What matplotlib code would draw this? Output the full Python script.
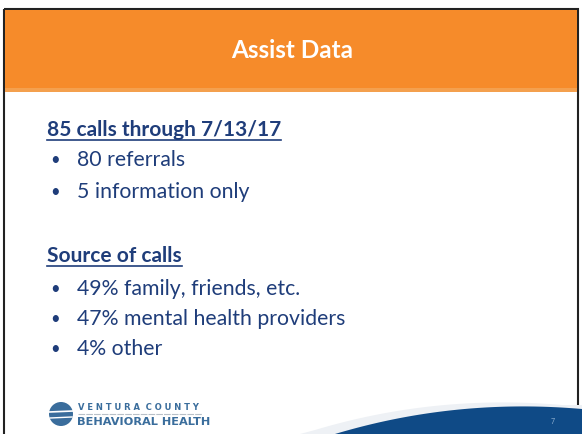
import numpy as np
import matplotlib.pyplot as plt
from matplotlib.patches import Rectangle, Polygon, Circle

title = "Assist Data"
heading1 = "85 calls through 7/13/17"
bullets1 = ["80 referrals", "5 information only"]
heading2 = "Source of calls"
bullets2 = ["49% family, friends, etc.", "47% mental health providers", "4% other"]
page_no = "7"

W, H = 582, 434
navy = "#1f3d7a"
orange = "#f68b2a"
plt.rcParams['font.family'] = ['Lato', 'DejaVu Sans']

fig = plt.figure(figsize=(W / 100, H / 100), dpi=100)
ax = fig.add_axes([0, 0, 1, 1])
ax.set_xlim(0, W)
ax.set_ylim(H, 0)
ax.axis("off")

# slide frame + header band
ax.add_patch(Rectangle((4, 9), 574, 430, fill=False, edgecolor="#222222", lw=1.5))
ax.add_patch(Rectangle((5, 10), 572, 82, color=orange, lw=0))
ax.add_patch(Rectangle((5, 88), 572, 4, color="#f4a04e", lw=0))
ax.text(292, 50, title, color="white", fontsize=17.5, fontweight="bold",
        ha="center", va="center")

def heading(y, txt):
    t = ax.text(47, y, txt, color=navy, fontsize=15, fontweight="bold",
                ha="left", va="center")
    fig.canvas.draw()
    bb = t.get_window_extent().transformed(ax.transData.inverted())
    ax.plot([bb.x0, bb.x1], [y + 10, y + 10], color=navy, lw=1.2)

def bullet_list(y0, step, items):
    for i, s in enumerate(items):
        y = y0 + i * step
        ax.text(50, y, "\u2022", color=navy, fontsize=12, ha="left", va="center")
        ax.text(77, y, s, color=navy, fontsize=15.3, ha="left", va="center")

heading(130, heading1)
bullet_list(160, 32, bullets1)
heading(256, heading2)
bullet_list(289, 30, bullets2)

# bottom swoosh (quadratic curve)
tt = np.linspace(0, 1, 80)
p0, p1, p2 = np.array([335, 434]), np.array([455, 398]), np.array([582, 409])
curve = (((1 - tt) ** 2)[:, None] * p0 + (2 * tt * (1 - tt))[:, None] * p1
         + (tt ** 2)[:, None] * p2)
ax.add_patch(Polygon(list(curve - [20, 4]) + [(582, 405), (582, 434), (300, 434)],
                     color="#eef1f5", lw=0))
ax.add_patch(Polygon(list(curve) + [(582, 434)], color="#0f4a86", lw=0))
ax.text(553, 422, page_no, color="#8fb0d0", fontsize=5, ha="center", va="center")

# logo
ax.add_patch(Circle((61, 414), 12, color="#3a6d9c", lw=0))
ax.plot([49, 73], [412, 411], color="white", lw=1.2)
ax.plot([50, 72], [418, 417], color="white", lw=1)
ax.text(78, 407, "V E N T U R A  C O U N T Y", color="#3a6d9c", fontsize=6,
        fontweight="bold", ha="left", va="center", fontfamily="DejaVu Sans")
ax.plot([78, 202], [414, 414], color="#b8c0c8", lw=0.8, ls=(0, (6, 1)))
ax.text(77, 422, "BEHAVIORAL HEALTH", color="#3a6d9c", fontsize=8.2,
        fontweight="bold", ha="left", va="center", fontfamily="DejaVu Sans")

fig.savefig("out.png", dpi=100)
